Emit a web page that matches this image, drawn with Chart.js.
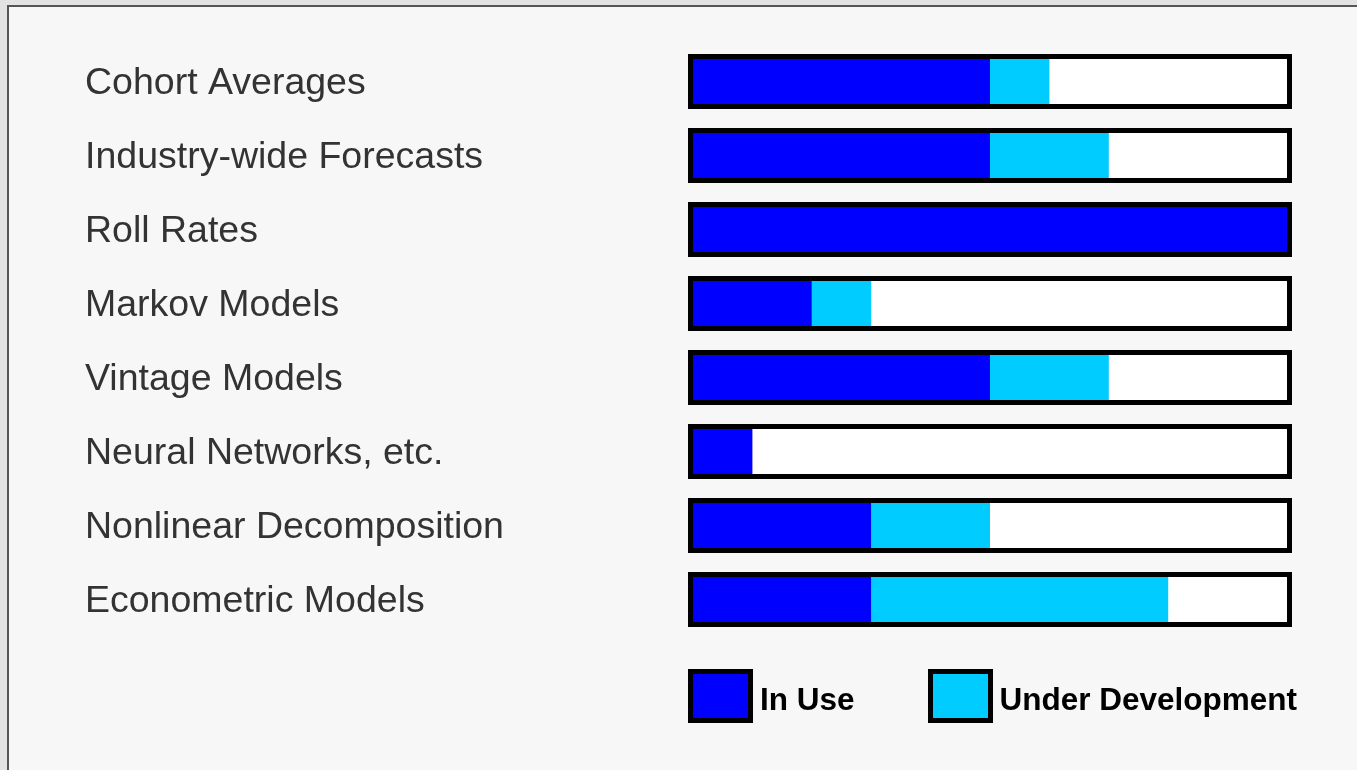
<!DOCTYPE html>
<html>
<head>
<meta charset="utf-8">
<title>Methods in use</title>
<script src="https://cdn.jsdelivr.net/npm/chart.js@4.4.1/dist/chart.umd.min.js"></script>
<style>
  html, body { margin: 0; padding: 0; }
  body {
    width: 1357px; height: 770px; position: relative; overflow: hidden;
    background: #e3e3e3;
    font-family: "Liberation Sans", Arial, sans-serif;
  }
  #frame {
    position: absolute; left: 7px; top: 5px; right: -10px; bottom: -10px;
    border: 2px solid #555; background: #f7f7f7;
  }
  #chart { position: absolute; left: 0; top: 0; }
  #legend {
    position: absolute; left: 688px; top: 669px; width: 660px;
    display: flex; align-items: center; white-space: nowrap;
  }
  .item { display: flex; align-items: center; flex-shrink: 0; margin-right: 73px; }
  .swatch {
    width: 65px; height: 54px; box-sizing: border-box; flex-shrink: 0;
    border: 5px solid #000;
  }
  .item span {
    margin-left: 7px; font-size: 31.5px; font-weight: bold; color: #000;
    position: relative; top: 3px;
  }
</style>
</head>
<body>
<div id="frame"></div>
<canvas id="chart" width="1357" height="770"></canvas>
<div id="legend"></div>
<script>
const metodos = [
  "Cohort Averages",
  "Industry-wide Forecasts",
  "Roll Rates",
  "Markov Models",
  "Vintage Models",
  "Neural Networks, etc.",
  "Nonlinear Decomposition",
  "Econometric Models"
];
// share of respondents, %
const enUso = [50, 50, 100, 20, 50, 10, 30, 30];
const enDesarrollo = [10, 20, 0, 10, 20, 0, 20, 50];
const resto = enUso.map((v, i) => 100 - v - enDesarrollo[i]);

const colores = { uso: "#0000ff", desarrollo: "#00ccff", resto: "#ffffff" };

// black frame around every full 0-100 bar
const marcoBarras = {
  id: "marcoBarras",
  afterDatasetsDraw(chart) {
    const { ctx } = chart;
    const x = chart.scales.x;
    const left = x.getPixelForValue(0);
    const right = x.getPixelForValue(100);
    const meta = chart.getDatasetMeta(0);
    ctx.save();
    ctx.strokeStyle = "#000";
    ctx.lineWidth = 5;
    meta.data.forEach(bar => {
      const h = bar.height;
      ctx.strokeRect(left - 2.5, bar.y - h / 2 - 2.5, right - left + 5, h + 5);
    });
    ctx.restore();
  }
};

// html legend built from the datasets
const leyendaHtml = {
  id: "leyendaHtml",
  afterUpdate(chart) {
    const cont = document.getElementById("legend");
    cont.innerHTML = "";
    chart.data.datasets.filter(ds => !ds.ocultarLeyenda).forEach(ds => {
      const item = document.createElement("div");
      item.className = "item";
      item.innerHTML = `<div class="swatch" style="background:${ds.backgroundColor}"></div><span>${ds.label}</span>`;
      cont.appendChild(item);
    });
  }
};

new Chart(document.getElementById("chart").getContext("2d"), {
  type: "bar",
  data: {
    labels: metodos,
    datasets: [
      { label: "In Use", data: enUso, backgroundColor: colores.uso },
      { label: "Under Development", data: enDesarrollo, backgroundColor: colores.desarrollo },
      { label: "", data: resto, backgroundColor: colores.resto, ocultarLeyenda: true }
    ]
  },
  options: {
    indexAxis: "y",
    responsive: false,
    animation: false,
    layout: { padding: { left: 85, right: 70, top: 44.5, bottom: 133.5 } },
    datasets: {
      bar: { borderWidth: 0, barPercentage: 0.608, categoryPercentage: 1 }
    },
    plugins: {
      legend: { display: false },
      tooltip: { enabled: false }
    },
    scales: {
      x: { display: false, stacked: true, min: 0, max: 100 },
      y: {
        stacked: true,
        grid: { display: false },
        border: { display: false },
        ticks: {
          crossAlign: "far",
          labelOffset: 2.5,
          color: "#333",
          font: { family: "'Liberation Sans', Arial, sans-serif", size: 37.5 }
        },
        afterFit: (scale) => { scale.width = 693 - 85; }
      }
    }
  },
  plugins: [marcoBarras, leyendaHtml]
});
</script>
</body>
</html>
